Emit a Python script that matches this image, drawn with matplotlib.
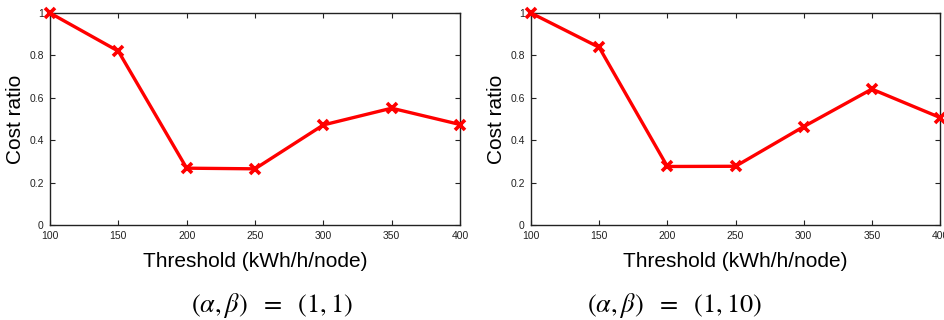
import matplotlib
matplotlib.use("Agg")
import matplotlib.pyplot as plt
from matplotlib.ticker import FuncFormatter

thresholds = [100, 150, 200, 250, 300, 350, 400]
cost_ratio_1_1 = [1.0, 0.82, 0.268, 0.265, 0.472, 0.551, 0.474]
cost_ratio_1_10 = [1.0, 0.838, 0.276, 0.277, 0.464, 0.641, 0.507]
captions = [r"$(\alpha,\beta)\ \ =\ \ (1,1)$", r"$(\alpha,\beta)\ \ =\ \ (1,10)$"]
yticks = [0, 0.2, 0.4, 0.6, 0.8, 1]

plt.rcParams['font.family'] = ['Liberation Sans', 'DejaVu Sans']
plt.rcParams['mathtext.fontset'] = 'stix'

fig = plt.figure(figsize=(9.44, 3.2), dpi=100)
W, H = 944, 320
boxes = [(50, 460), (531, 940)]
cap_x = [272, 675]
series = [cost_ratio_1_1, cost_ratio_1_10]

fmt = FuncFormatter(lambda v, p: ('%g' % v))

for (x0, x1), ys, cap, cx in zip(boxes, series, captions, cap_x):
    ax = fig.add_axes([x0 / W, (H - 225) / H, (x1 - x0) / W, 212 / H])
    ax.plot(thresholds, ys, color='#ff0000', lw=2.4, marker='x', ms=7.5,
            mew=2.6, clip_on=False, zorder=5)
    ax.set_xlim(100, 400)
    ax.set_ylim(0, 1)
    ax.set_xticks(thresholds)
    ax.set_yticks(yticks)
    ax.yaxis.set_major_formatter(fmt)
    ax.tick_params(direction='in', length=3.5, width=0.8, top=True, right=True,
                   labelsize=7.5, colors='#222222')
    ax.tick_params(axis='x', pad=4)
    ax.tick_params(axis='y', pad=4.5)
    for s in ax.spines.values():
        s.set_linewidth(1.0)
        s.set_color('#222222')
    ax.set_ylabel('Cost ratio', fontsize=15, labelpad=3)
    ax.set_xlabel('Threshold (kWh/h/node)', fontsize=15, labelpad=8)
    fig.text(cx / W, 1 - 305 / H, cap, fontsize=19, ha='center', va='center')

fig.savefig('out.png', dpi=100)
